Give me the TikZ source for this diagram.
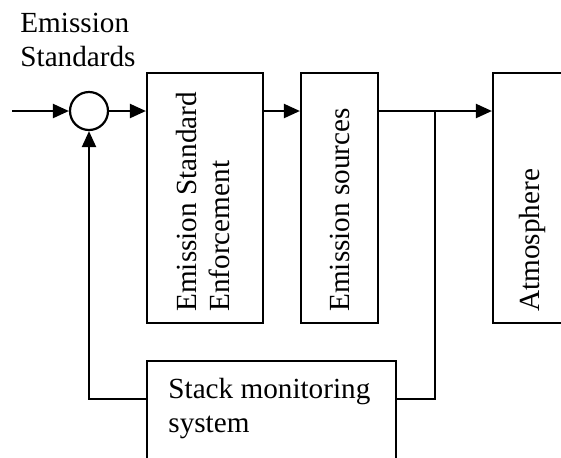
\documentclass[tikz,border=0pt]{standalone}
\usepackage{fontspec}
\setmainfont{Liberation Serif}
\usetikzlibrary{arrows.meta}
\begin{document}
\begin{tikzpicture}[x=0.5pt,y=-0.5pt,
  every node/.style={font=\fontsize{14.6pt}{16.8pt}\selectfont},
  blk/.style={draw,line width=1.1pt,inner sep=0pt},
  vlab/.style={rotate=90,anchor=west,align=left,inner sep=0pt},
  arr/.style={line width=1.1pt,-{Triangle[length=8pt,width=7pt]}},
  ln/.style={line width=1.1pt}]
\useasboundingbox (0,0) rectangle (561,457);
\clip (0,0) rectangle (561,457);
% label
\node[anchor=base west,align=left,inner sep=0pt] (lbl) at (20,66) {Emission\\Standards};
% summing junction
\node[draw,circle,line width=1.1pt,minimum size=19pt,inner sep=0pt] (c) at (89,111) {};
% blocks
\node[blk,minimum width=58pt,minimum height=125pt] (b1) at (205,198) {};
\node[blk,minimum width=38.5pt,minimum height=125pt] (b2) at (339.5,198) {};
\node[blk,minimum width=38.5pt,minimum height=125pt] (b3) at (531.5,198) {};
\node[blk,minimum width=124.5pt,minimum height=57pt] (st) at (271.5,418) {};
% texts
\node[vlab] (t1) at (203,312) {Emission Standard\\Enforcement};
\node[vlab] (t2) at (340,312) {Emission sources};
\node[vlab] (t3) at (532,312) {Atmosphere};
\node[anchor=base west,align=left,inner sep=0pt] (t4) at (168,432) {Stack monitoring\\system};
% coordinates
\coordinate (in) at (12,111);
\coordinate (br) at (435,111);
\coordinate (fb) at (0,399);
% connectors
\draw[arr] (in) -- (c.west);
\draw[arr] (c.east) -- (c.east -| b1.west);
\draw[arr] (b1.east |- c) -- (b2.west |- c);
\draw[arr] (b2.east |- c) -- (b3.west |- c);
\draw[ln] (br) |- (st.east |- fb);
\draw[arr] (st.west |- fb) -| (c.south);
\end{tikzpicture}
\end{document}
